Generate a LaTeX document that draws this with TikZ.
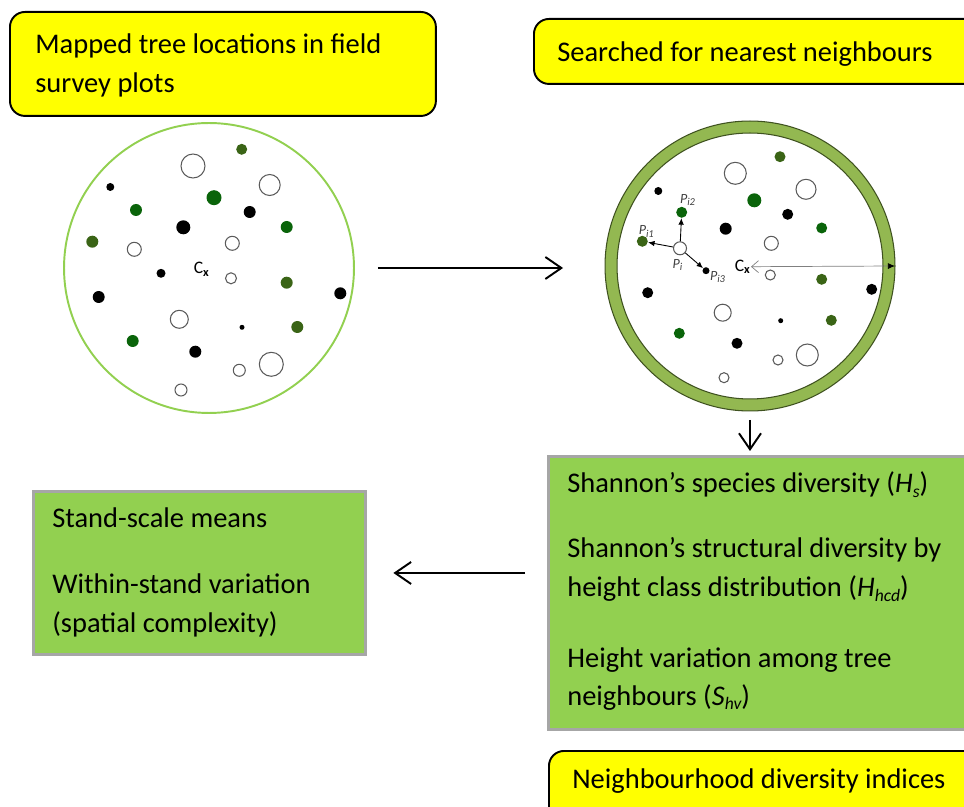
\documentclass[tikz,border=0pt]{standalone}
\usepackage{fontspec}
\setmainfont{Carlito}
\usetikzlibrary{arrows.meta,calc}
\definecolor{boxyellow}{HTML}{FFFF00}
\definecolor{boxgreen}{HTML}{92D050}
\definecolor{boxgrey}{HTML}{A6A6A6}
\definecolor{plotline}{HTML}{92D050}
\definecolor{ringgreen}{HTML}{93B851}
\definecolor{ringedge}{HTML}{3F5220}
\definecolor{treegreen}{HTML}{0A640A}
\definecolor{treeolive}{HTML}{3A6416}
\definecolor{treegrey}{HTML}{5A5A5A}
\newcommand{\idx}[1]{\raisebox{-0.3ex}{\fontsize{10}{10}\selectfont\itshape #1}}
\tikzset{
    >={Straight Barb[length=3.2mm,width=4.4mm]},
    heading/.style = {
        draw,
        shape=rectangle,
        rounded corners=3mm,
        fill=boxyellow,
        line width=1.1pt,
        anchor=north west
    },
    result/.style = {
        draw=boxgrey,
        shape=rectangle,
        fill=boxgreen,
        line width=1.7pt,
        anchor=north west
    },
    words/.style = {
        anchor=base west,
        inner sep=0pt,
        font=\fontsize{16.2}{20}\selectfont
    },
    plotdisc/.style = {
        draw=plotline,
        shape=circle,
        line width=1.1pt,
        minimum size=5.8cm
    },
    ring/.style = {
        draw=ringgreen,
        shape=circle,
        line width=6.8pt,
        minimum size=5.56cm
    },
    stem/.style = {shape=circle, inner sep=0pt, minimum size=#1},
    blackdot/.style = {stem=#1, fill=black},
    greendot/.style = {stem=#1, fill=treegreen},
    olivedot/.style = {stem=#1, fill=treeolive},
    opendot/.style = {stem=#1, draw=treegrey, fill=white, line width=0.6pt},
    centre/.style = {inner sep=0pt, font=\fontsize{10}{12}\selectfont},
    tag/.style = {inner sep=0pt, text=black!75, font=\fontsize{8}{9}\selectfont\itshape},
    flow/.style = {draw, ->, line width=1.1pt},
}
\begin{document}
\begin{tikzpicture}[x=0.02cm,y=-0.02cm]
    \useasboundingbox (0,0) rectangle (964,807);
    \clip (0,0) rectangle (964,807);

    % boxes
    \node[heading, minimum width=8.52cm, minimum height=2.08cm] (mapped) at (9,11) {};
    \node[heading, minimum width=9.2cm, minimum height=1.3cm] (searched) at (533,18) {};
    \node[result, minimum width=8.8cm, minimum height=5.46cm] (metrics) at (547,455) {};
    \node[result, minimum width=6.64cm, minimum height=3.26cm] (summary) at (32,490) {};
    \node[heading, minimum width=8.8cm, minimum height=1.6cm] (neighbourhood) at (548,750) {};

    \node[words] (mappedA) at (35,54) {Mapped tree locations in field};
    \node[words] (mappedB) at (35,93) {survey plots};
    \node[words] (searchedA) at (557,62) {Searched for nearest neighbours};
    \node[words] (hsA) at (567,493) {Shannon's species diversity (\textit{H}\idx{s})};
    \node[words] (hcdA) at (567,558) {Shannon's structural diversity by};
    \node[words] (hcdB) at (567,597) {height class distribution (\textit{H}\idx{hcd})};
    \node[words] (hvA) at (567,667) {Height variation among tree};
    \node[words] (hvB) at (567,705) {neighbours (\textit{S}\idx{hv})};
    \node[words] (summaryA) at (52,528) {Stand-scale means};
    \node[words] (summaryB) at (52,593) {Within-stand variation};
    \node[words] (summaryC) at (52,632) {(spatial complexity)};
    \node[words] (neighbourhoodA) at (572,788) {Neighbourhood diversity indices};

    % left plot
    \node[plotdisc] (plotA) at (209,268) {};
    \node[olivedot=2.2mm] (a1) at (241.7,149.3) {};
    \node[opendot=4.8mm] (a2) at (193,166) {};
    \node[blackdot=1.6mm] (a3) at (110.3,187) {};
    \node[opendot=4.2mm] (a4) at (269.7,185) {};
    \node[greendot=3mm] (a5) at (214,197.7) {};
    \node[greendot=2.4mm] (a6) at (136,210) {};
    \node[blackdot=2.4mm] (a7) at (249.7,212) {};
    \node[blackdot=2.8mm] (a8) at (183.3,227.3) {};
    \node[greendot=2.4mm] (a9) at (286.7,227) {};
    \node[olivedot=2.4mm] (a10) at (92.3,241.7) {};
    \node[opendot=2.8mm] (a11) at (134.3,249.3) {};
    \node[opendot=2.8mm] (a12) at (232.3,243.3) {};
    \node[blackdot=1.8mm] (a13) at (161,273.3) {};
    \node[opendot=2.2mm] (a15) at (231,278.3) {};
    \node[olivedot=2.4mm] (a16) at (286.7,282.7) {};
    \node[blackdot=2.4mm] (a17) at (98.7,297) {};
    \node[blackdot=2.4mm] (a18) at (340.3,293.3) {};
    \node[opendot=3.6mm] (a19) at (179.3,319.3) {};
    \node[blackdot=1mm] (a20) at (242,327.3) {};
    \node[olivedot=2.4mm] (a21) at (297.3,327) {};
    \node[greendot=2.4mm] (a22) at (132.7,341) {};
    \node[blackdot=2.4mm] (a23) at (195.3,351.7) {};
    \node[opendot=4.8mm] (a24) at (271.3,364.3) {};
    \node[opendot=2.4mm] (a25) at (239.3,370.3) {};
    \node[opendot=2.4mm] (a26) at (181,390) {};
    \node[centre] (cxA) at (201.7,269.3) {C\textsubscript{\textbf{x}}};

    % right plot
    \node[ring] (plotB) at (750,266) {};
    \draw[ringedge, line width=0.6pt] (plotB.center) circle[radius=2.9cm];
    \draw[ringedge, line width=0.6pt] (plotB.center) circle[radius=2.66cm];
    \node[olivedot=2.2mm] (b1) at (780,156.7) {};
    \node[opendot=4.4mm] (b2) at (735.3,173.3) {};
    \node[blackdot=1.6mm] (b3) at (658.3,191) {};
    \node[opendot=4mm] (b4) at (806,189.3) {};
    \node[greendot=2.8mm] (b5) at (754.3,200.3) {};
    \node[greendot=2.2mm] (pi2) at (681.7,212.3) {};
    \node[blackdot=2.2mm] (b7) at (787.7,214.3) {};
    \node[blackdot=2.4mm] (b8) at (725.7,228.7) {};
    \node[greendot=2.2mm] (b9) at (821.7,228) {};
    \node[olivedot=2.2mm] (pi1) at (642.3,241.3) {};
    \node[opendot=2.6mm] (pi) at (680,248.3) {};
    \node[opendot=2.8mm] (b12) at (771.3,243.3) {};
    \node[blackdot=1.4mm] (pi3) at (706,270.7) {};
    \node[opendot=2mm] (b15) at (770.3,275) {};
    \node[olivedot=2.2mm] (b16) at (821.7,279.3) {};
    \node[blackdot=2.2mm] (b17) at (647.7,292.7) {};
    \node[blackdot=2.2mm] (b18) at (871.7,289.3) {};
    \node[opendot=3.4mm] (b19) at (722.7,312.7) {};
    \node[blackdot=1mm] (b20) at (780.7,320.7) {};
    \node[olivedot=2.2mm] (b21) at (831.3,320.3) {};
    \node[greendot=2.2mm] (b22) at (679.3,333.3) {};
    \node[blackdot=2.2mm] (b23) at (737,343.3) {};
    \node[opendot=4.4mm] (b24) at (807.3,355) {};
    \node[opendot=2mm] (b25) at (778,360) {};
    \node[opendot=2mm] (b26) at (724,377.7) {};
    \node[centre] (cxB) at (742.7,266.7) {C\textsubscript{\textbf{x}}};

    \node[tag] (pi1tag) at (646.7,231.7) {P\textsubscript{i1}};
    \node[tag] (pi2tag) at (688,200) {P\textsubscript{i2}};
    \node[tag] (pitag) at (678,265) {P\textsubscript{i}};
    \node[tag] (pi3tag) at (718,277) {P\textsubscript{i3}};

    \path[draw, line width=0.5pt, -{Latex[length=1.3mm,width=1.1mm]}] (pi) -- (pi1);
    \path[draw, line width=0.5pt, -{Latex[length=1.3mm,width=1.1mm]}] (pi) -- (pi2);
    \path[draw, line width=0.5pt, -{Latex[length=1.3mm,width=1.1mm]}] (pi) -- (pi3);
    \path[draw, gray, line width=0.4pt, {Straight Barb[length=1.4mm,width=2.4mm]}-{Latex[black,length=1.4mm,width=1.2mm]}] (cxB.east) -- (plotB.east);

    % flow
    \path[flow, shorten <=0.46cm, shorten >=0.84cm] (plotA.east) -- (plotA.east -| plotB.west);
    \path[flow, shorten <=0.18cm, shorten >=0.08cm] (plotB.south) -- (plotB.south |- metrics.north);
    \path[flow, shorten <=0.44cm, shorten >=0.53cm] (metrics.west |- summary.east) -- (summary.east);
\end{tikzpicture}
\end{document}
